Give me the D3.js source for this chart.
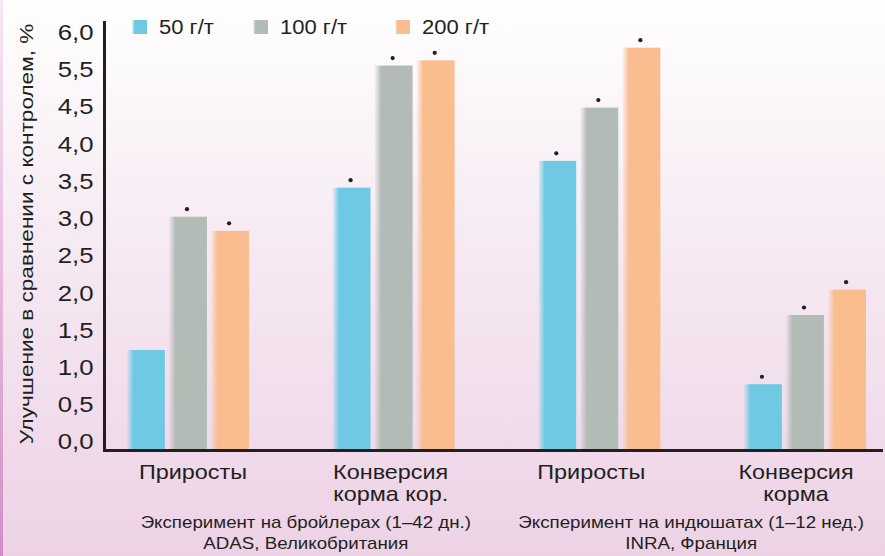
<!DOCTYPE html>
<html>
<head>
<meta charset="utf-8">
<script src="https://cdn.jsdelivr.net/npm/d3@7/dist/d3.min.js"></script>
<style>
  html, body { margin: 0; padding: 0; background: #fff; }
  svg { display: block; font-family: "Liberation Sans", Arial, Helvetica, sans-serif; }
</style>
</head>
<body>
<svg id="chart" width="885" height="556"></svg>
<script>
// ---- data ----
const groups = ["g1", "g2", "g3", "g4"];
const groupLabels = [["Приросты"], ["Конверсия", "корма кор."], ["Приросты"], ["Конверсия", "корма"]];
const experiments = [
  ["Эксперимент на бройлерах (1–42 дн.)", "ADAS, Великобритания"],
  ["Эксперимент на индюшатах (1–12 нед.)", "INRA, Франция"]
];
const series = ["50 г/т", "100 г/т", "200 г/т"];
const dose50 = [1.35, 3.53, 3.89, 0.89];
const dose100 = [3.14, 5.67, 4.71, 1.82];
const dose200 = [2.95, 5.74, 5.91, 2.16];
// significance markers (dot above bar)
const sig50 = [false, true, true, true];
const sig100 = [true, true, true, true];
const sig200 = [true, true, true, true];
const yTickValues = [0, 0.5, 1.0, 1.5, 2.0, 2.5, 3.0, 3.5, 4.0, 4.5, 5.5, 6.0];
const yTickLabels = ["0,0", "0,5", "1,0", "1,5", "2,0", "2,5", "3,0", "3,5", "4,0", "4,5", "5,5", "6,0"];
const yTitle = "Улучшение в сравнении с контролем, %";

const colors = ["#6fc9e3", "#b3bbb7", "#f9bd8f"];
const ink = "#231f20";
const stretch = 1.17; // type is set horizontally expanded

const svg = d3.select("#chart");
const W = 885, H = 556;

// text placed at (ax, ay) and widened around that anchor
function wideText(parent, ax, ay, lines, opts) {
  const g = parent.append("g").attr("transform", `translate(${ax},${ay}) ${opts.rotate ? "rotate(-90) " : ""}scale(${opts.sx || stretch},1)`);
  const t = g.append("text")
    .attr("text-anchor", opts.anchor || "middle")
    .attr("font-size", opts.size)
    .attr("fill", ink);
  if (opts.dy) t.attr("dy", opts.dy);
  lines.forEach((line, li) => {
    t.append("tspan").attr("x", 0).attr("y", li * (opts.lh || 0)).text(line);
  });
  return g;
}

// ---- background ----
const defs = svg.append("defs");
const bg = defs.append("linearGradient").attr("id", "bg").attr("x1", 0).attr("y1", 0).attr("x2", 0).attr("y2", 1);
bg.append("stop").attr("offset", 0).attr("stop-color", "#ffffff");
bg.append("stop").attr("offset", 0.08).attr("stop-color", "#fdfbfc");
bg.append("stop").attr("offset", 0.5).attr("stop-color", "#f5e7f1");
bg.append("stop").attr("offset", 1).attr("stop-color", "#edd2e6");
svg.append("rect").attr("width", W).attr("height", H).attr("fill", "url(#bg)");

const edge = defs.append("linearGradient").attr("id", "edge").attr("x1", 0).attr("y1", 0).attr("x2", 0).attr("y2", 1);
edge.append("stop").attr("offset", 0).attr("stop-color", "#f6e8f2");
edge.append("stop").attr("offset", 1).attr("stop-color", "#d58cc6");
svg.append("rect").attr("x", 0).attr("y", 0).attr("width", 3).attr("height", H).attr("fill", "url(#edge)");

// soft left edge of every bar
colors.forEach((c, i) => {
  const g = defs.append("linearGradient").attr("id", "bar" + i).attr("x1", 0).attr("y1", 0).attr("x2", 1).attr("y2", 0);
  g.append("stop").attr("offset", 0).attr("stop-color", c).attr("stop-opacity", 0.1);
  g.append("stop").attr("offset", 0.17).attr("stop-color", c).attr("stop-opacity", 1);
  g.append("stop").attr("offset", 1).attr("stop-color", c).attr("stop-opacity", 1);
});

// ---- scales ----
const y0 = 450.5, yStep = 37.23;
const y = d3.scaleLinear()
  .domain(yTickValues)
  .range(yTickValues.map((_, i) => y0 - i * yStep));

const x = d3.scalePoint().domain(groups).range([188, 805]);
const xs = d3.scaleBand().domain(series).range([-61, 61]).paddingInner(0.1);

const values = [dose50, dose100, dose200];
const sigs = [sig50, sig100, sig200];
const bars = [];
groups.forEach((g, gi) => series.forEach((s, si) => {
  bars.push({ g, s, si, v: values[si][gi], sig: sigs[si][gi] });
}));

// ---- bars ----
svg.append("g").selectAll("rect").data(bars).join("rect")
  .attr("x", d => x(d.g) + xs(d.s))
  .attr("y", d => y(d.v))
  .attr("width", xs.bandwidth())
  .attr("height", d => y(0) - y(d.v))
  .attr("fill", d => `url(#bar${d.si})`);

svg.append("g").selectAll("circle").data(bars.filter(d => d.sig)).join("circle")
  .attr("cx", d => x(d.g) + xs(d.s) + xs.bandwidth() / 2 - 1)
  .attr("cy", d => y(d.v) - 7.5)
  .attr("r", 2.1)
  .attr("fill", ink);

// ---- axes ----
svg.append("line").attr("x1", 104.5).attr("x2", 104.5).attr("y1", 21).attr("y2", y0 + 1.5)
  .attr("stroke", ink).attr("stroke-width", 3);
svg.append("line").attr("x1", 103).attr("x2", 883).attr("y1", y0).attr("y2", y0)
  .attr("stroke", ink).attr("stroke-width", 3);

const tickLayer = svg.append("g");
yTickValues.forEach((v, i) => {
  wideText(tickLayer, 93.5, y(v) - 9, [yTickLabels[i]], { size: 22, anchor: "end", dy: "0.36em" });
});

wideText(svg, 33, 234, [yTitle], { size: 18.5, rotate: true, sx: 1.22 });

// ---- category labels ----
const labelNudge = [5, -3, -8, -9];
groups.forEach((g, gi) => {
  wideText(svg, x(g) + labelNudge[gi], 479, groupLabels[gi], { size: 20, lh: 22 });
});

const expNudge = [15, -11];
experiments.forEach((lines, ei) => {
  const cx = (x(groups[ei * 2]) + x(groups[ei * 2 + 1])) / 2 + expNudge[ei];
  wideText(svg, cx, 527.5, lines, { size: 16, lh: 21.5 });
});

// ---- legend ----
const legendX = [132, 253, 395];
const lg = svg.append("g").selectAll("g").data(series).join("g")
  .attr("transform", (d, i) => `translate(${legendX[i]},20)`);
lg.append("rect").attr("width", 15).attr("height", 14).attr("fill", (d, i) => `url(#bar${i})`);
lg.each(function (d) {
  wideText(d3.select(this), 27, 14, [d], { size: 19.5, anchor: "start", sx: 1.13 });
});
</script>
</body>
</html>
